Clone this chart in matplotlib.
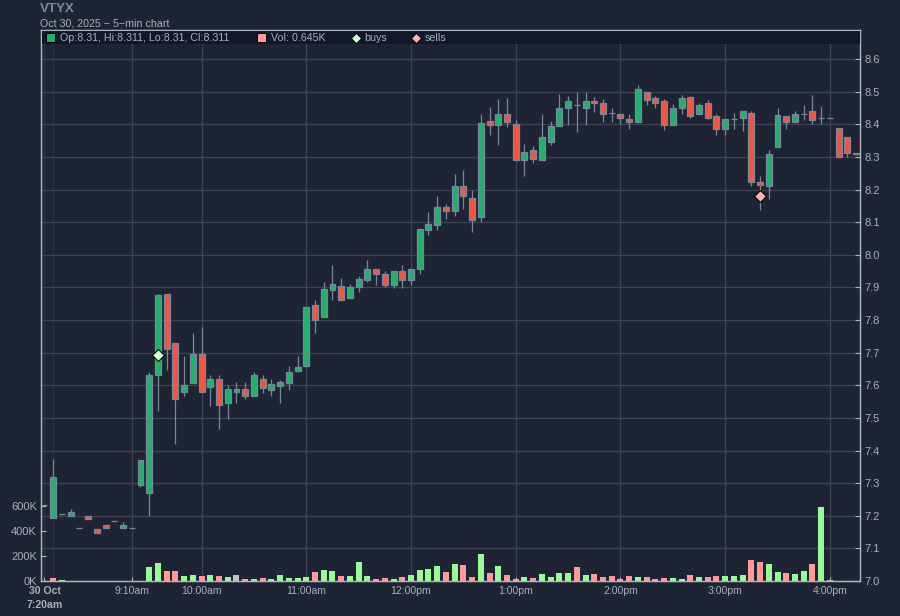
import matplotlib
matplotlib.use("Agg")
import matplotlib.pyplot as plt
from matplotlib.lines import Line2D
from matplotlib.patches import Rectangle

plt.rcParams["font.family"] = ["Liberation Sans", "DejaVu Sans"]

W, H = 900, 616

# candles, one entry per 5-min bar (gaps before the open are skipped on the axis)
opens = [7.233, 7.194, 7.204, 7.200, 7.161, 7.200, 7.158, 7.172, 7.183, 7.161, 7.162, 7.293,
         7.271, 7.630, 7.879, 7.729, 7.578, 7.608, 7.696, 7.595, 7.618, 7.547, 7.578, 7.588,
         7.568, 7.618, 7.587, 7.599, 7.608, 7.644, 7.659, 7.846, 7.808, 7.893, 7.903, 7.869,
         7.902, 7.924, 7.957, 7.940, 7.908, 7.950, 7.924, 7.956, 8.075, 8.090, 8.146, 8.135,
         8.212, 8.173, 8.117, 8.409, 8.399, 8.431, 8.400, 8.289, 8.321, 8.289, 8.347, 8.396,
         8.450, 8.460, 8.450, 8.472, 8.465, 8.435, 8.431, 8.415, 8.408, 8.500, 8.481, 8.472,
         8.399, 8.450, 8.485, 8.431, 8.466, 8.425, 8.384, 8.416, 8.418, 8.434, 8.222, 8.211,
         8.330, 8.425, 8.408, 8.431, 8.440, 8.418, 8.419, 8.388, 8.361, 8.310]
closes = [7.233, 7.320, 7.204, 7.213, 7.161, 7.190, 7.148, 7.161, 7.183, 7.172, 7.162, 7.372,
          7.631, 7.876, 7.712, 7.559, 7.600, 7.696, 7.578, 7.618, 7.541, 7.588, 7.588, 7.568,
          7.631, 7.593, 7.603, 7.609, 7.640, 7.657, 7.841, 7.799, 7.894, 7.909, 7.860, 7.900,
          7.925, 7.957, 7.940, 7.908, 7.950, 7.924, 7.957, 8.078, 8.094, 8.146, 8.135, 8.212,
          8.181, 8.107, 8.403, 8.399, 8.431, 8.408, 8.289, 8.315, 8.293, 8.361, 8.394, 8.450,
          8.472, 8.460, 8.472, 8.465, 8.433, 8.435, 8.418, 8.408, 8.509, 8.475, 8.465, 8.399,
          8.451, 8.481, 8.425, 8.460, 8.418, 8.384, 8.415, 8.416, 8.440, 8.224, 8.215, 8.309,
          8.428, 8.408, 8.431, 8.431, 8.413, 8.418, 8.419, 8.299, 8.312, 8.311]
highs = [7.233, 7.373, 7.204, 7.221, 7.161, 7.200, 7.158, 7.172, 7.183, 7.182, 7.162, 7.372,
         7.641, 7.880, 7.880, 7.729, 7.690, 7.760, 7.779, 7.632, 7.632, 7.601, 7.610, 7.610,
         7.641, 7.632, 7.619, 7.615, 7.659, 7.690, 7.841, 7.861, 7.918, 7.968, 7.928, 7.911,
         7.934, 7.984, 7.957, 7.950, 7.950, 7.968, 7.957, 8.078, 8.130, 8.180, 8.157, 8.249,
         8.260, 8.200, 8.432, 8.452, 8.476, 8.482, 8.412, 8.340, 8.332, 8.432, 8.409, 8.492,
         8.486, 8.500, 8.500, 8.485, 8.476, 8.450, 8.431, 8.431, 8.521, 8.500, 8.486, 8.476,
         8.461, 8.491, 8.488, 8.466, 8.473, 8.432, 8.415, 8.434, 8.440, 8.440, 8.241, 8.321,
         8.450, 8.425, 8.440, 8.458, 8.491, 8.457, 8.419, 8.388, 8.361, 8.311]
lows = [7.233, 7.194, 7.204, 7.200, 7.161, 7.190, 7.148, 7.161, 7.183, 7.161, 7.162, 7.287,
        7.199, 7.520, 7.647, 7.419, 7.567, 7.608, 7.578, 7.537, 7.467, 7.498, 7.547, 7.559,
        7.568, 7.575, 7.567, 7.547, 7.586, 7.642, 7.659, 7.760, 7.808, 7.861, 7.860, 7.869,
        7.887, 7.917, 7.907, 7.902, 7.898, 7.898, 7.907, 7.940, 8.062, 8.077, 8.110, 8.120,
        8.140, 8.070, 8.100, 8.368, 8.338, 8.393, 8.289, 8.240, 8.280, 8.289, 8.338, 8.394,
        8.399, 8.375, 8.399, 8.439, 8.408, 8.408, 8.400, 8.384, 8.408, 8.459, 8.450, 8.381,
        8.399, 8.431, 8.418, 8.431, 8.416, 8.368, 8.368, 8.384, 8.378, 8.212, 8.136, 8.171,
        8.330, 8.387, 8.408, 8.413, 8.402, 8.402, 8.419, 8.299, 8.299, 8.310]

# volume in thousands, colour code per bar: g up, r down, n unchanged
volumes = [0, 26, 10, 0, 0, 0, 0, 0, 0, 0, 0, 0,
           114, 146, 82, 82, 42, 50, 42, 50, 42, 34, 50, 18,
           18, 26, 18, 50, 26, 26, 32, 72, 87, 80, 40, 40,
           151, 40, 16, 24, 16, 32, 48, 87, 95, 119, 72, 135,
           127, 32, 215, 64, 119, 48, 16, 32, 24, 56, 32, 64,
           64, 111, 48, 56, 32, 40, 16, 40, 32, 32, 16, 24,
           24, 16, 48, 32, 32, 40, 40, 40, 48, 167, 151, 135,
           72, 64, 56, 80, 135, 588, 5, 0, 0, 0.645]
vol_dirs = ("nrgnnnnnnnnn" "ggrrggrgrgnr" "grgggggrggrg" "ggrrgrggggrg"
            "rrgrgrrgrggg" "grgrrrrrgrrr" "ggrgrrgggrrg" "grggrgnnng")

xtick_pos = [0, 10, 18, 30, 42, 54, 66, 78, 90]
xtick_labels = ["30 Oct\n7:20am", "9:10am", "10:00am", "11:00am", "12:00pm",
                "1:00pm", "2:00pm", "3:00pm", "4:00pm"]
price_ticks = [7.0, 7.1, 7.2, 7.3, 7.4, 7.5, 7.6, 7.7, 7.8, 7.9,
               8.0, 8.1, 8.2, 8.3, 8.4, 8.5, 8.6]
vol_ticks = [0, 200, 400, 600]
vol_tick_labels = ["0K", "200K", "400K", "600K"]

buy_marks = [(13, 7.692)]
sell_marks = [(82, 8.18)]

BG = "#1e2433"
BAND = "#111829"
GRID = "#3e4454"
GRID_DARK = "#2d3342"
FRAME = "#b0b5c3"
TEXT = "#a9aebc"
UP = "#20b26c"
DOWN = "#f5553f"
EDGE = "#78879c"
VOL_UP = "#98fb98"
VOL_DOWN = "#ff9a9a"
VOL_FLAT = "#c0c0c0"
BUY = "#d8ffd8"
SELL = "#ffb0b0"


def fx(px):
    return px / W


def fy(px):
    return 1 - px / H


fig = plt.figure(figsize=(W / 100, H / 100), dpi=100, facecolor=BG)
ax = fig.add_axes([fx(41), fy(581), fx(860) - fx(41), fy(30) - fy(581)], facecolor=BG)
ax_vol = ax.twinx()
ax.set_zorder(1)
ax_vol.set_zorder(2)
ax_vol.patch.set_visible(False)

ax.set_xlim(-0.4, 93.45)
ax.set_ylim(7.0, 8.689)
ax_vol.set_ylim(0, 4379)

ax.set_xticks(xtick_pos)
ax.set_xticklabels(xtick_labels)
ax.set_yticks(price_ticks)
ax.set_yticklabels([f"{p:.1f}" for p in price_ticks])
ax.yaxis.tick_right()
ax.grid(True, color=GRID, linewidth=0.9)
ax.set_axisbelow(True)
ax.xaxis.get_gridlines()[0].set_color(GRID_DARK)
ax.axvline(1, color=GRID_DARK, linewidth=0.9, zorder=0.5)
ax.tick_params(axis="x", direction="in", length=3, color=FRAME, labelcolor=TEXT, labelsize=7.6, pad=3.5)
ax.tick_params(axis="y", direction="in", length=3.5, color=FRAME, labelcolor=TEXT, labelsize=8, pad=3,
               right=True, left=False)
ax.get_xticklabels()[0].set_fontweight("bold")
ax.get_xticklabels()[0].set_linespacing(1.55)

ax_vol.yaxis.tick_left()
ax_vol.set_yticks(vol_ticks)
ax_vol.set_yticklabels(vol_tick_labels)
ax_vol.tick_params(axis="y", direction="in", length=3.5, color=FRAME, labelcolor=TEXT, labelsize=8, pad=3)

for a in (ax, ax_vol):
    for s in a.spines.values():
        s.set_color(FRAME)
        s.set_linewidth(0.9)

# candles
for i in range(len(opens)):
    ax.vlines(i, lows[i], highs[i], color=EDGE, linewidth=0.9, zorder=2)
    colour = UP if closes[i] >= opens[i] else DOWN
    ax.bar(i, closes[i] - opens[i], bottom=opens[i], width=0.68, color=colour,
           edgecolor=EDGE, linewidth=0.9, zorder=3)

for x, y in buy_marks:
    ax.plot(x, y, marker="D", ms=6, mfc=BUY, mec="black", mew=0.8, ls="none", zorder=5)
for x, y in sell_marks:
    ax.plot(x, y, marker="D", ms=6, mfc=SELL, mec="black", mew=0.8, ls="none", zorder=5)

# volume
vol_colours = {"g": VOL_UP, "r": VOL_DOWN, "n": VOL_FLAT}
ax_vol.bar(range(len(volumes)), volumes, width=0.69,
           color=[vol_colours[d] for d in vol_dirs], linewidth=0)

# header
fig.text(fx(40), fy(11.5), "VTYX", color="#7f8696", fontsize=9.6, fontweight="bold", va="baseline")
fig.text(fx(40), fy(23), "Oct 30, 2025 \u2212 5\u2212min chart", color=TEXT, fontsize=7.7, va="center")

# legend band
fig.add_artist(Rectangle((fx(41.5), fy(43.7)), fx(859.5) - fx(41.5), fy(31) - fy(43.7),
                         transform=fig.transFigure, facecolor=BAND, edgecolor="none", zorder=10))
for px, colour in ((46, UP), (257, VOL_DOWN)):
    fig.add_artist(Rectangle((fx(px), fy(42)), 9 / W, 9 / H, transform=fig.transFigure,
                             facecolor=colour, edgecolor="black", linewidth=0.7, zorder=11))
for px, colour in ((355.5, BUY), (415.5, SELL)):
    fig.add_artist(Line2D([fx(px)], [fy(37.7)], transform=fig.transFigure, marker="D", ms=5.5,
                          mfc=colour, mec="black", mew=0.6, ls="none", zorder=11))
legend_items = [(60, "Op:8.31, Hi:8.311, Lo:8.31, Cl:8.311"), (271, "Vol: 0.645K"),
                (364.5, "buys"), (424.5, "sells")]
for px, label in legend_items:
    fig.text(fx(px), fy(37.7), label, color=TEXT, fontsize=7.7, va="center", zorder=12)

fig.savefig("out.png", dpi=100, facecolor=BG)
